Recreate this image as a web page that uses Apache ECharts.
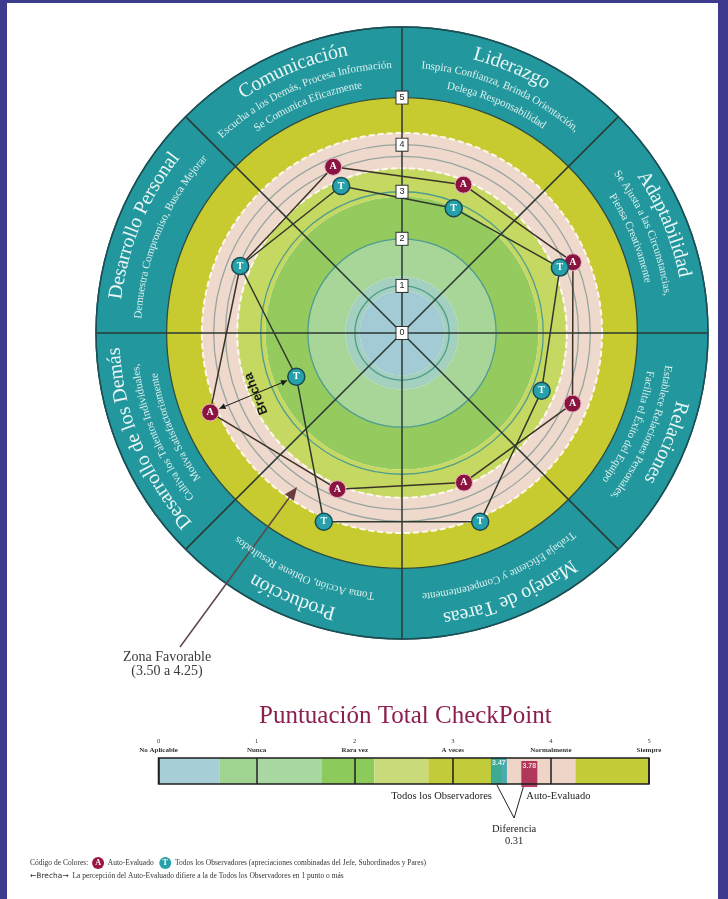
<!DOCTYPE html>
<html><head><meta charset="utf-8">
<script src="https://cdn.jsdelivr.net/npm/echarts@6/dist/echarts.min.js"></script>
<style>
html,body{margin:0;padding:0;background:#fff;}
#chart{position:absolute;left:0;top:0;width:728px;height:899px;}
.bd{position:absolute;background:#3d3b8d;}
</style></head><body>
<div id="chart"></div>
<div class="bd" style="left:0;top:0;width:7px;height:899px"></div>
<div class="bd" style="right:0;top:0;width:10px;height:899px"></div>
<div class="bd" style="left:0;top:0;width:728px;height:3px"></div>
<script>
// ---------- data ----------
const categories = ['Liderazgo','Adaptabilidad','Relaciones','Manejo de Tareas','Producción','Desarrollo de los Demás','Desarrollo Personal','Comunicación'];
const subtitles = [
  ['Inspira Confianza, Brinda Orientación,', 'Delega Responsabilidad'],
  ['Se Ajusta a las Circunstancias,', 'Piensa Creativamente'],
  ['Establece Relaciones Personales,', 'Facilita el Éxito del Equipo'],
  ['Trabaja Eficiente y Competentemente'],
  ['Toma Acción, Obtiene Resultados'],
  ['Cultiva los Talentos Individuales,', 'Motiva Satisfactoriamente'],
  ['Demuestra Compromiso, Busca Mejorar'],
  ['Escucha a los Demás, Procesa Información', 'Se Comunica Eficazmente']
];
const autoEvaluado = [3.41, 3.93, 3.92, 3.44, 3.59, 4.41, 3.72, 3.82];
const observadores = [2.87, 3.63, 3.21, 4.34, 4.34, 2.43, 3.72, 3.38];
const radarTicks = [0, 1, 2, 3, 4, 5];
const ringEdges  = [0, 0.9, 1.2, 2.0, 2.9, 3.5, 4.25, 5, 6.5];
const ringColors = ['#a2cbd6', '#a4d0c0', '#a7d698', '#95ca5f', '#c5d862', '#efd8cc', '#c7cb2f', '#22979d'];
const gridCircles = [1, 2, 3, 3.75, 4, 5, 6.5];
const gridCircleColors = ['#4e9c90', '#4e9c90', '#4e9c90', '#97a6a1', '#97a6a1', '#2c4d3f', '#1c4f55'];
const favorableEdges = [3.5, 4.25];

const scaleTicks = [0, 1, 2, 3, 4, 5];
const scaleWords = ['No Aplicable', 'Nunca', 'Rara vez', 'A veces', 'Normalmente', 'Siempre'];
const scoreEdges  = [0, 0.62, 1.0, 1.66, 2.2, 2.75, 3.5, 4.25, 5];
const scoreColors = ['#a8cfd8', '#9fd38f', '#a9d8a2', '#8ccb5b', '#c9da7a', '#c2cc3a', '#efd5c8', '#c4cc38'];
const totalObservadores = 3.47;
const totalAuto = 3.78;

// ---------- layout ----------
const CX = 402, CY = 333, RAD = 306, RMAX = 6.5;
const STEP = 0.25;
const GL = 158.5, GW = 490.5, GT = 758, GH = 26;
const SERIF = '"Liberation Serif", "Times New Roman", serif';
const SANS = '"Liberation Sans", Arial, sans-serif';

const nSteps = Math.round(RMAX / STEP);
function circleColorArray(vals, cols) {
  const arr = [];
  for (let k = 0; k <= nSteps; k++) {
    const v = k * STEP;
    const idx = vals.findIndex(x => Math.abs(x - v) < 1e-6);
    arr.push(idx >= 0 ? cols[idx] : 'rgba(0,0,0,0)');
  }
  return arr;
}

const bandSeries = ringEdges.slice(0, -1).map((e, i) => ({
  type: 'bar', coordinateSystem: 'polar', polarIndex: 0, stack: 'rings',
  data: categories.map(() => +(ringEdges[i + 1] - e).toFixed(4)),
  barCategoryGap: '0%', barGap: '0%',
  itemStyle: { color: ringColors[i] }, silent: true, z: 1
}));

// closed loop; hide label where another series' point covers it
function loop(vals, other) {
  const d = vals.map((v, i) => (other && Math.abs(other[i] - v) < 1e-9) ? { value: [v, i], label: { show: false } } : [v, i]);
  d.push({ value: [vals[0], 0], symbol: 'none', label: { show: false } });
  return d;
}

const scoreSeries = scoreEdges.slice(0, -1).map((e, i) => ({
  type: 'bar', xAxisIndex: 0, yAxisIndex: 0, stack: 'score',
  data: [+(scoreEdges[i + 1] - e).toFixed(4)],
  barWidth: '100%', itemStyle: { color: scoreColors[i] }, silent: true, z: 1
}));

const angleBase = { type: 'category', data: categories, startAngle: 90, clockwise: true, boundaryGap: true };

const option = {
  animation: false,
  backgroundColor: '#ffffff',
  title: {
    text: 'Puntuación Total CheckPoint', left: 254, top: 699,
    textStyle: { fontFamily: SERIF, fontWeight: 'normal', fontSize: 25, color: '#8c1f50' }
  },
  polar: [
    { center: [CX, CY], radius: RAD },
    { center: [CX, CY], radius: RAD },
    { center: [CX, CY], radius: RAD }
  ],
  angleAxis: [
    Object.assign({}, angleBase, {
      polarIndex: 0, z: 3,
      axisLine: { show: true, lineStyle: { color: '#1c4f55', width: 1.5 } },
      axisTick: { show: false }, axisLabel: { show: false },
      splitLine: { show: true, lineStyle: { color: '#2b3a33', width: 1.5 } }
    }),
    Object.assign({}, angleBase, { polarIndex: 1, axisLine: { show: false }, axisTick: { show: false }, axisLabel: { show: false }, splitLine: { show: false } }),
    Object.assign({}, angleBase, { polarIndex: 2, axisLine: { show: false }, axisTick: { show: false }, axisLabel: { show: false }, splitLine: { show: false } })
  ],
  radiusAxis: [
    {
      polarIndex: 0, type: 'value', min: 0, max: RMAX, interval: STEP, z: 3,
      axisLine: { show: false }, axisTick: { show: false }, axisLabel: { show: false },
      splitLine: { show: true, lineStyle: { color: circleColorArray(gridCircles, gridCircleColors), width: 1.3 } }
    },
    {
      polarIndex: 1, type: 'value', min: 0, max: RMAX, interval: STEP, z: 3,
      axisLine: { show: false }, axisTick: { show: false }, axisLabel: { show: false },
      splitLine: { show: true, lineStyle: { color: circleColorArray(favorableEdges, ['#fff8ee', '#fff8ee']), width: 2, type: [6, 3] } }
    },
    {
      polarIndex: 2, type: 'value', min: 0, max: RMAX, interval: 1, z: 6,
      axisLine: { show: false }, axisTick: { show: false }, splitLine: { show: false },
      axisLabel: {
        show: true, customValues: radarTicks, margin: 0, align: 'center', verticalAlign: 'middle',
        formatter: v => (v <= 5 ? String(v) : ''),
        color: '#222', fontSize: 9, fontFamily: SANS, backgroundColor: '#ffffff',
        borderColor: '#333', borderWidth: 1, padding: [2, 3, 1, 3]
      }
    }
  ],
  grid: {
    left: GL, top: GT, width: GW, height: GH, show: true, z: 10,
    backgroundColor: 'rgba(0,0,0,0)', borderColor: '#1e1e1e', borderWidth: 1.5
  },
  xAxis: {
    type: 'value', min: 0, max: 5, interval: 1, position: 'top', z: 10,
    axisLine: { show: false }, axisTick: { show: false },
    splitLine: { show: true, lineStyle: { color: '#1e1e1e', width: 1.5 } },
    axisLabel: {
      margin: 3,
      formatter: v => '{n|' + v + '}\n{w|' + scaleWords[scaleTicks.indexOf(v)] + '}',
      rich: {
        n: { fontSize: 6.5, lineHeight: 9, fontFamily: SERIF, color: '#333' },
        w: { fontSize: 7, lineHeight: 9, fontWeight: 'bold', fontFamily: SERIF, color: '#333' }
      }
    }
  },
  yAxis: { type: 'category', data: ['total'], show: false },
  series: [
    ...bandSeries,
    {
      name: 'Auto-Evaluado', type: 'line', coordinateSystem: 'polar', polarIndex: 0, z: 4,
      data: loop(autoEvaluado, observadores), symbol: 'circle', symbolSize: 17, showAllSymbol: true,
      lineStyle: { color: '#3a3328', width: 1.5 },
      itemStyle: { color: '#8b1340', borderColor: '#e7b3c4', borderWidth: 1 },
      label: { show: true, position: 'inside', formatter: 'A', color: '#fff', fontSize: 10, fontWeight: 'bold', fontFamily: SERIF }
    },
    {
      name: 'Todos los Observadores', type: 'line', coordinateSystem: 'polar', polarIndex: 0, z: 4,
      data: loop(observadores, null), symbol: 'circle', symbolSize: 17, showAllSymbol: true,
      lineStyle: { color: '#2e3a2c', width: 1.5 },
      itemStyle: { color: '#27a1a9', borderColor: '#1b4a52', borderWidth: 1.5 },
      label: { show: true, position: 'inside', formatter: 'T', color: '#fff', fontSize: 10, fontWeight: 'bold', fontFamily: SERIF }
    },
    ...scoreSeries,
    {
      type: 'scatter', xAxisIndex: 0, yAxisIndex: 0, z: 5, silent: true,
      data: [[totalObservadores, 0]], symbol: 'rect', symbolSize: [16, 27],
      itemStyle: { color: '#1ea1a9' },
      label: { show: true, position: 'insideTop', distance: 2, formatter: totalObservadores.toFixed(2), color: '#fff', fontSize: 7, fontFamily: SANS, fontWeight: 'bold' }
    },
    {
      type: 'scatter', xAxisIndex: 0, yAxisIndex: 0, z: 5, silent: true,
      data: [[totalAuto, 0]], symbol: 'rect', symbolSize: [16, 26], symbolOffset: [0, 3],
      itemStyle: { color: '#a10f40' },
      label: { show: true, position: 'insideTop', distance: 2, formatter: totalAuto.toFixed(2), color: '#fff', fontSize: 7, fontFamily: SANS, fontWeight: 'bold' }
    }
  ]
};

const chart = echarts.init(document.getElementById('chart'));
chart.setOption(option);

// ---------- annotations ----------
const meas = document.createElement('canvas').getContext('2d');
const els = [];
function arcText(str, size, r, centerDeg, color, weight) {
  const font = (weight || 'normal') + ' ' + size + 'px ' + SERIF;
  meas.font = font;
  const chars = Array.from(str);
  const widths = chars.map(ch => meas.measureText(ch).width);
  const total = widths.reduce((a, b) => a + b, 0);
  const c0 = centerDeg * Math.PI / 180;
  let s = 0;
  chars.forEach((ch, i) => {
    const mid = s + widths[i] / 2;
    s += widths[i];
    if (ch === ' ') return;
    const th = c0 + (total / 2 - mid) / r;
    els.push({
      type: 'text', x: CX + r * Math.cos(th), y: CY - r * Math.sin(th),
      rotation: th - Math.PI / 2, silent: true, z: 100,
      style: { text: ch, font: font, fill: color, align: 'center', verticalAlign: 'middle', textAlign: 'center', textVerticalAlign: 'middle' }
    });
  });
}
categories.forEach((name, i) => {
  const ang = 90 - 45 * (i + 0.5);
  arcText(name, 20, 288, ang, '#e9f6f5');
  const subs = subtitles[i];
  if (subs.length === 1) arcText(subs[0], 11, 264, ang, '#dcefee');
  else { arcText(subs[0], 11, 268, ang, '#dcefee'); arcText(subs[1], 11, 251, ang, '#dcefee'); }
});

function polarPx(seriesIndex, v, idx) {
  let p = null;
  try { p = chart.convertToPixel({ seriesIndex: seriesIndex }, [v, idx]); } catch (e) { p = null; }
  if (!p || isNaN(p[0])) {
    const th = (90 - 45 * (idx + 0.5)) * Math.PI / 180, r = v / RMAX * RAD;
    p = [CX + r * Math.cos(th), CY - r * Math.sin(th)];
  }
  return p;
}
function arrowHead(tip, dir, len, half, color) {
  const bx = tip[0] - dir[0] * len, by = tip[1] - dir[1] * len;
  const px = -dir[1], py = dir[0];
  els.push({ type: 'polygon', silent: true, z: 90, shape: { points: [tip, [bx + px * half, by + py * half], [bx - px * half, by - py * half]] }, style: { fill: color } });
}

// Brecha arrow between A and T of "Desarrollo de los Demás"
const iDD = categories.indexOf('Desarrollo de los Demás');
const aIdx = bandSeries.length, tIdx = bandSeries.length + 1;
const pA = polarPx(aIdx, autoEvaluado[iDD], iDD);
const pT = polarPx(tIdx, observadores[iDD], iDD);
{
  const dx = pT[0] - pA[0], dy = pT[1] - pA[1], L = Math.hypot(dx, dy);
  const u = [dx / L, dy / L];
  const s0 = [pA[0] + u[0] * 10, pA[1] + u[1] * 10];
  const s1 = [pT[0] - u[0] * 10, pT[1] - u[1] * 10];
  els.push({ type: 'line', silent: true, z: 90, shape: { x1: s0[0], y1: s0[1], x2: s1[0], y2: s1[1] }, style: { stroke: '#1a1a1a', lineWidth: 1 } });
  arrowHead(s1, u, 6, 3, '#1a1a1a');
  arrowHead(s0, [-u[0], -u[1]], 6, 3, '#1a1a1a');
  const mx = (pA[0] + pT[0]) / 2 + 3, my = (pA[1] + pT[1]) / 2 - 1;
  els.push({ type: 'text', x: mx, y: my, rotation: 112 * Math.PI / 180, silent: true, z: 95,
    style: { text: 'Brecha', font: 'bold 13px ' + SANS, fill: '#1a1a1a', align: 'center', verticalAlign: 'middle', textAlign: 'center', textVerticalAlign: 'middle' } });
}

// Zona favorable arrow
{
  const tip = [297, 487], start = [180, 647];
  const dx = tip[0] - start[0], dy = tip[1] - start[1], L = Math.hypot(dx, dy);
  const u = [dx / L, dy / L];
  els.push({ type: 'line', silent: true, z: 90, shape: { x1: start[0], y1: start[1], x2: tip[0] - u[0] * 8, y2: tip[1] - u[1] * 8 }, style: { stroke: '#5e4646', lineWidth: 1.5 } });
  arrowHead(tip, u, 13, 5.5, '#6a3d40');
  els.push({ type: 'text', x: 167, y: 657, silent: true, style: { text: 'Zona Favorable', font: '14px ' + SERIF, fill: '#3a3a3a', align: 'center', verticalAlign: 'middle', textAlign: 'center', textVerticalAlign: 'middle' } });
  els.push({ type: 'text', x: 167, y: 671, silent: true, style: { text: '(3.50 a 4.25)', font: '14px ' + SERIF, fill: '#3a3a3a', align: 'center', verticalAlign: 'middle', textAlign: 'center', textVerticalAlign: 'middle' } });
}

// Score bar annotations
function scorePx(v) {
  let p = null;
  try { p = chart.convertToPixel({ gridIndex: 0 }, [v, 0]); } catch (e) { p = null; }
  if (!p || isNaN(p[0])) p = [GL + v / 5 * GW, GT + GH / 2];
  return p;
}
{
  const tX = scorePx(totalObservadores)[0], aX = scorePx(totalAuto)[0];
  const bottom = GT + GH;
  const apex = [(tX + aX) / 2, 818];
  els.push({ type: 'line', silent: true, z: 20, shape: { x1: tX - 2, y1: bottom + 1, x2: apex[0], y2: apex[1] }, style: { stroke: '#222', lineWidth: 1 } });
  els.push({ type: 'line', silent: true, z: 20, shape: { x1: aX - 6, y1: bottom + 3, x2: apex[0], y2: apex[1] }, style: { stroke: '#222', lineWidth: 1 } });
  els.push({ type: 'text', x: tX - 7, y: 796, silent: true, style: { text: 'Todos los Observadores', font: '10.5px ' + SERIF, fill: '#222', align: 'right', verticalAlign: 'middle', textAlign: 'right', textVerticalAlign: 'middle' } });
  els.push({ type: 'text', x: aX - 3, y: 796, silent: true, style: { text: 'Auto-Evaluado', font: '10.5px ' + SERIF, fill: '#222', align: 'left', verticalAlign: 'middle', textAlign: 'left', textVerticalAlign: 'middle' } });
  els.push({ type: 'text', x: apex[0], y: 829, silent: true, style: { text: 'Diferencia', font: '10.5px ' + SERIF, fill: '#222', align: 'center', verticalAlign: 'middle', textAlign: 'center', textVerticalAlign: 'middle' } });
  els.push({ type: 'text', x: apex[0], y: 841, silent: true, style: { text: (totalAuto - totalObservadores).toFixed(2), font: '10.5px ' + SERIF, fill: '#222', align: 'center', verticalAlign: 'middle', textAlign: 'center', textVerticalAlign: 'middle' } });
}

// Legend lines
const legendRich = {
  a: { backgroundColor: '#9b1646', borderRadius: 6, width: 12, height: 12, lineHeight: 12, align: 'center', fill: '#fff', color: '#fff', fontSize: 8, fontWeight: 'bold', fontFamily: SERIF },
  t: { backgroundColor: '#27a1a9', borderRadius: 6, width: 12, height: 12, lineHeight: 12, align: 'center', fill: '#fff', color: '#fff', fontSize: 8, fontWeight: 'bold', fontFamily: SERIF },
  b: { fontSize: 7.5, fontFamily: '"DejaVu Sans", sans-serif', fill: '#333', color: '#333' }
};
els.push({ type: 'text', x: 30, y: 863, silent: true, style: {
  text: 'Código de Colores:  {a|A}  Auto-Evaluado   {t|T}  Todos los Observadores (apreciaciones combinadas del Jefe, Subordinados y Pares)',
  font: '7.5px ' + SERIF, fill: '#333', verticalAlign: 'middle', textVerticalAlign: 'middle', rich: legendRich } });
els.push({ type: 'text', x: 30, y: 876, silent: true, style: {
  text: '{b|\u2190Brecha\u2192}  La percepción del Auto-Evaluado difiere a la de Todos los Observadores en 1 punto o más',
  font: '7.5px ' + SERIF, fill: '#333', verticalAlign: 'middle', textVerticalAlign: 'middle', rich: legendRich } });

chart.setOption({ graphic: { elements: els } });
</script>
</body></html>
